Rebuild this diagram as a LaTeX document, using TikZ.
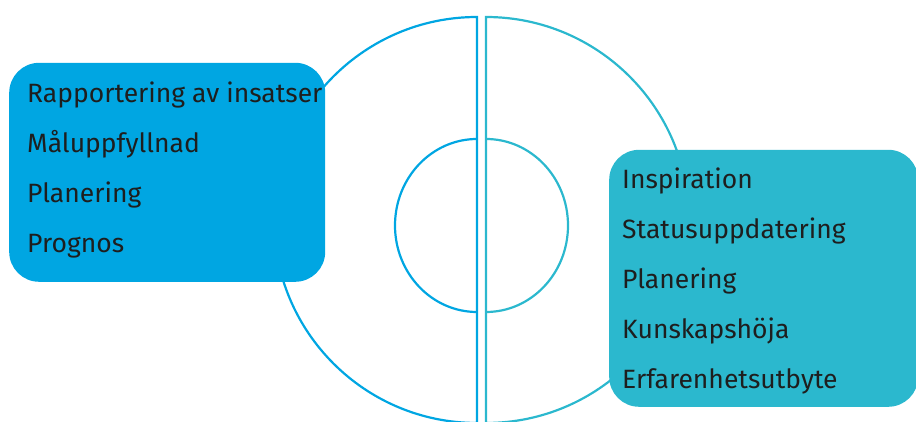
\documentclass[tikz,border=0pt]{standalone}
\usepackage{fontspec}
\setmainfont{Fira Sans}
\usetikzlibrary{positioning}
\definecolor{leftblue}{RGB}{0,166,226}
\definecolor{rightteal}{RGB}{43,184,206}
\definecolor{txtgray}{RGB}{30,30,30}
\begin{document}
\begin{tikzpicture}[x=1pt, y=1pt,
	ring/.style={line width=2.2pt},
	box/.style={rounded corners=30pt, inner sep=0pt},
	item/.style={anchor=base west, inner sep=0pt, text=txtgray, font=\fontsize{26.5}{30}\selectfont}]
\useasboundingbox (0,0) rectangle (916,422);
\clip (0,0) rectangle (916,422);
% two halves of the rings
\draw[ring, leftblue] (477,0) -- (477,405) arc[start angle=90, end angle=270, radius=203];
\draw[ring, rightteal] (486,0) -- (486,405) arc[start angle=90, end angle=-90, radius=203];
\draw[ring, leftblue] (477,283) arc[start angle=90, end angle=270, x radius=82, y radius=86.5];
\draw[ring, rightteal] (486,283) arc[start angle=90, end angle=-90, x radius=82, y radius=86.5];
% boxes
\node[box, fill=leftblue, minimum width=316pt, minimum height=219pt, anchor=south west] (lbox) at (9,140) {};
\node[box, fill=rightteal, minimum width=309pt, minimum height=257pt, anchor=south west] (rbox) at (609,15) {};
\foreach \txt [count=\i] in {Rapportering av insatser, Måluppfyllnad, Planering, Prognos}
	\node[item] (l\i) at (27,{319-50*(\i-1)}) {\txt};
\foreach \txt [count=\i] in {Inspiration, Statusuppdatering, Planering, Kunskapshöja, Erfarenhetsutbyte}
	\node[item] (r\i) at (622,{233-50*(\i-1)}) {\txt};
\end{tikzpicture}
\end{document}
